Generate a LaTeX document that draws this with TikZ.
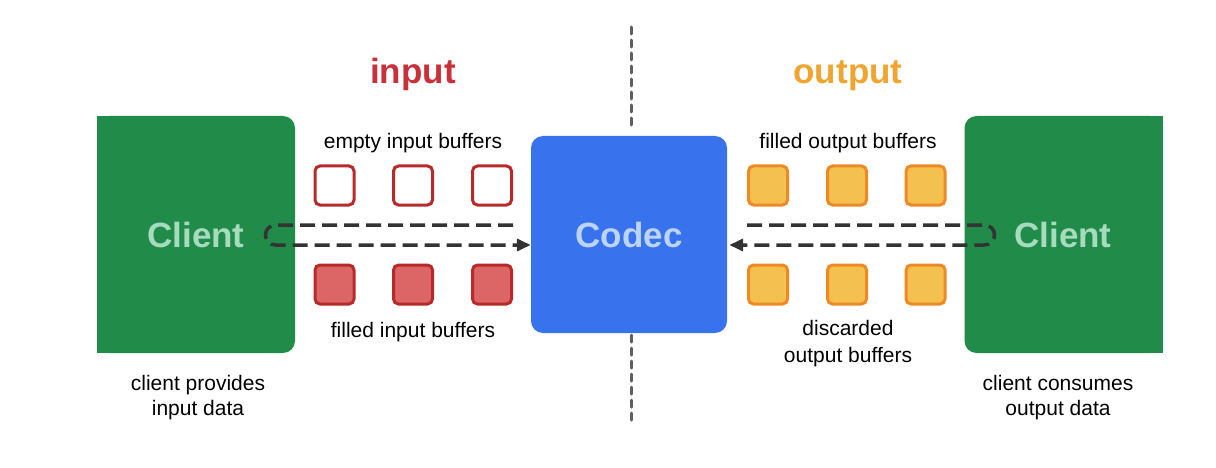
\documentclass[tikz,border=0pt]{standalone}
\usepackage{fontspec}
\setmainfont{Liberation Sans}
\usetikzlibrary{arrows.meta,calc}
\definecolor{cgreen}{HTML}{218B4A}
\definecolor{cgreentext}{HTML}{A6DBBE}
\definecolor{cblue}{HTML}{3873ED}
\definecolor{cbluetext}{HTML}{BCD4FA}
\definecolor{cred}{HTML}{B82A2A}
\definecolor{credfill}{HTML}{DC6565}
\definecolor{corange}{HTML}{EE8A25}
\definecolor{corangefill}{HTML}{F4C150}
\definecolor{ctitlered}{HTML}{C8303A}
\definecolor{ctitleorange}{HTML}{F0A530}
\definecolor{cdash}{HTML}{333333}
\definecolor{cdiv}{HTML}{5F5F5F}
\tikzset{
  bigbox/.style={rectangle, rounded corners=12pt, inner sep=0pt, font=\fontsize{35}{40}\selectfont\bfseries},
  clientbox/.style={bigbox, fill=cgreen, text=cgreentext, minimum width=198pt, minimum height=237pt},
  codecbox/.style={bigbox, fill=cblue, text=cbluetext, minimum width=196pt, minimum height=197pt},
  buf/.style={rectangle, rounded corners=5pt, line width=3pt, minimum size=39pt, inner sep=0pt},
  emptyin/.style={buf, draw=cred, fill=white},
  fullin/.style={buf, draw=cred, fill=credfill},
  fullout/.style={buf, draw=corange, fill=corangefill},
  lbl/.style={font=\fontsize{21}{25}\selectfont, text=black, inner sep=0pt, anchor=base},
  title/.style={font=\fontsize{35}{40}\selectfont\bfseries, inner sep=0pt, anchor=base},
  flow/.style={draw=cdash, line width=3.5pt, dash pattern=on 15pt off 7pt},
  divider/.style={draw=cdiv, line width=3pt, dash pattern=on 7pt off 6pt, line cap=round},
}
\begin{document}
\begin{tikzpicture}[x=1pt,y=-1pt]
\useasboundingbox (0,0) rectangle (1216,468);
% client boxes
\node[clientbox] (clientL) at (196,234.5) {};
\fill[cgreen] (clientL.north west) rectangle ($(clientL.south west)+(20,0)$);
\node[font=\fontsize{35}{40}\selectfont\bfseries, text=cgreentext] (clientLt) at (196,235) {Client};
\node[clientbox] (clientR) at (1063.5,234.5) {};
\fill[cgreen] (clientR.north east) rectangle ($(clientR.south east)+(-20,0)$);
\node[font=\fontsize{35}{40}\selectfont\bfseries, text=cgreentext] (clientRt) at (1063,235) {Client};
% codec
\node[codecbox] (codec) at (629,234.5) {Codec};
% divider
\coordinate (divtop) at (631,27);
\coordinate (divbot) at (631,422);
\draw[divider] (divtop) -- ($(codec.north)+(2,-6)$);
\draw[divider] ($(codec.south)+(2,2)$) -- (divbot);
% titles
\node[title, text=ctitlered] (tin) at (413,84) {input};
\node[title, text=ctitleorange] (tout) at (848,84) {output};
% buffers
\node[emptyin] (e1) at (334.5,185.5) {};
\node[emptyin] (e2) at (413,185.5) {};
\node[emptyin] (e3) at (492,185.5) {};
\node[fullin] (f1) at (334.5,284.5) {};
\node[fullin] (f2) at (413,284.5) {};
\node[fullin] (f3) at (492,284.5) {};
\node[fullout] (o1) at (768,185.5) {};
\node[fullout] (o2) at (847,185.5) {};
\node[fullout] (o3) at (925.5,185.5) {};
\node[fullout] (d1) at (768,284.5) {};
\node[fullout] (d2) at (847,284.5) {};
\node[fullout] (d3) at (925.5,284.5) {};
% labels
\node[lbl] (le) at (413,149) {empty input buffers};
\node[lbl] (lf) at (413,337) {filled input buffers};
\node[lbl] (lo) at (848,149) {filled output buffers};
\node[lbl] (ld1) at (848,335) {discarded};
\node[lbl] (ld2) at (848,362) {output buffers};
\node[lbl] (lc1) at (198,390) {client provides};
\node[lbl] (lc2) at (198,415) {input data};
\node[lbl] (lr1) at (1058,390) {client consumes};
\node[lbl] (lr2) at (1058,415) {output data};
% flows
\coordinate (inA) at (513,225);
\coordinate (inB) at (276,225);
\coordinate (inC) at (276,245);
\draw[flow, -{Triangle[length=14pt,width=12pt]}] (inA) -- (inB) .. controls (262,225) and (262,245) .. (inC) -- (codec.west |- inC);
\coordinate (outA) at (747,225);
\coordinate (outB) at (984,225);
\coordinate (outC) at (984,245);
\draw[flow, -{Triangle[length=14pt,width=12pt]}] (outA) -- (outB) .. controls (998,225) and (998,245) .. (outC) -- ($(codec.east |- outC)+(2,0)$);
\end{tikzpicture}
\end{document}
